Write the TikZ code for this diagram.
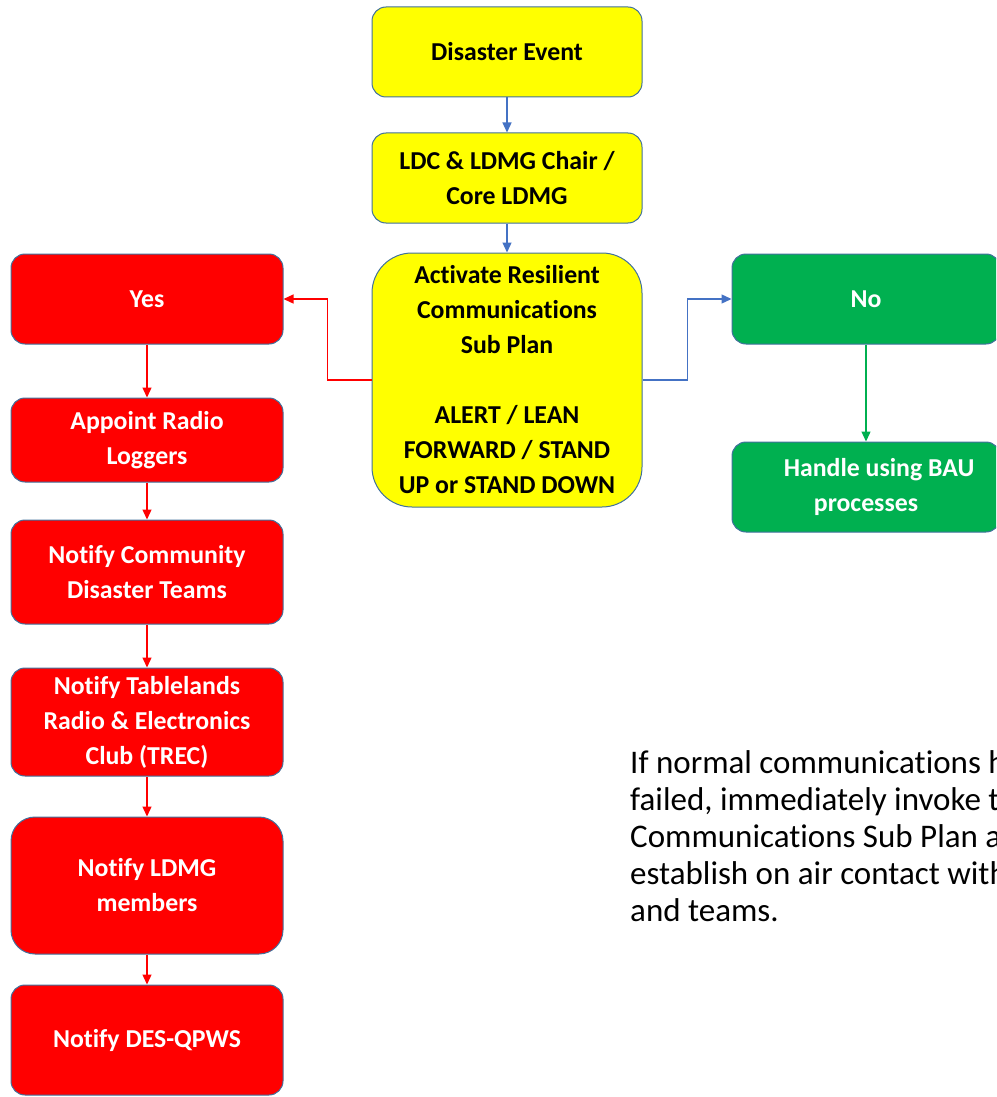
\documentclass[tikz,border=0pt]{standalone}
\usepackage{fontspec}
\setmainfont{Carlito}[Ligatures=NoCommon]
\usepackage{xcolor}
\usetikzlibrary{positioning, arrows.meta}
\definecolor{boxyellow}{HTML}{FFFF00}
\definecolor{boxred}{HTML}{FF0000}
\definecolor{boxgreen}{HTML}{00B050}
\definecolor{edgeblue}{HTML}{41719C}
\definecolor{arrowblue}{HTML}{4472C4}

\begin{document}
\begin{tikzpicture}[x=1pt, y=-1pt, >={Triangle[length=10pt,width=9pt]},
    stage/.style={draw=edgeblue, line width=1pt, rounded corners=14pt, align=center,
        inner sep=0pt, font=\fontsize{25.8}{35}\selectfont\bfseries},
    yellowbox/.style={stage, fill=boxyellow, text=black, minimum width=270pt},
    redbox/.style={stage, fill=boxred, text=white, minimum width=272pt},
    greenbox/.style={stage, fill=boxgreen, text=white, minimum width=268pt},
    link/.style={->, line width=1.3pt}]

    \useasboundingbox (0,0) rectangle (996,1097);
    \clip (0,0) rectangle (996,1097);

    % --- Centre Column ---
    \node[yellowbox, minimum height=90pt] (event) at (507,52) {Disaster Event};
    \node[yellowbox, minimum height=90pt] (ldc) at (507,178) {LDC \& LDMG Chair /\\Core LDMG};
    \node[yellowbox, minimum height=254pt, rounded corners=40pt] (activate) at (507,380)
        {Activate Resilient\\Communications\\Sub Plan\\[35pt]ALERT / LEAN\\FORWARD / STAND\\UP or STAND DOWN};

    \draw[link, arrowblue] (event) -- (ldc);
    \draw[link, arrowblue] (ldc) -- (activate);

    % --- Left Column (Yes) ---
    \node[redbox, minimum height=90pt] (yes) at (147,299) {Yes};
    \node[redbox, minimum height=84pt] (appoint) at (147,440) {Appoint Radio\\Loggers};
    \node[redbox, minimum height=104pt] (community) at (147,572) {Notify Community\\Disaster Teams};
    \node[redbox, minimum height=108pt] (trec) at (147,722) {Notify Tablelands\\Radio \& Electronics\\Club (TREC)};
    \node[redbox, minimum height=137pt, rounded corners=24pt] (members) at (147,885.5) {Notify LDMG\\members};
    \node[redbox, minimum height=110pt] (desqpws) at (147,1040) {Notify DES-QPWS};

    \draw[link, boxred] (activate.west) -- ++(-44,0) |- (yes);
    \foreach \a/\b in {yes/appoint, appoint/community, community/trec, trec/members, members/desqpws}
        \draw[link, boxred] (\a) -- (\b);

    % --- Right Column (No) ---
    \node[greenbox, minimum height=90pt] (no) at (866,299) {No};
    \node[greenbox, minimum height=90pt] (bau) at (866,487) {\hspace{26pt}Handle using BAU\\processes};

    \draw[link, arrowblue] (activate.east) -- ++(45,0) |- (no);
    \draw[link, boxgreen] (no) -- (bau);

    % --- Note ---
    \node[anchor=north west, align=left, inner sep=0pt, font=\fontsize{33}{37}\selectfont] (note) at (630,750)
        {If normal communications have\\failed, immediately invoke the\\Communications Sub Plan and\\establish on air contact with\\and teams.};

\end{tikzpicture}
\end{document}
